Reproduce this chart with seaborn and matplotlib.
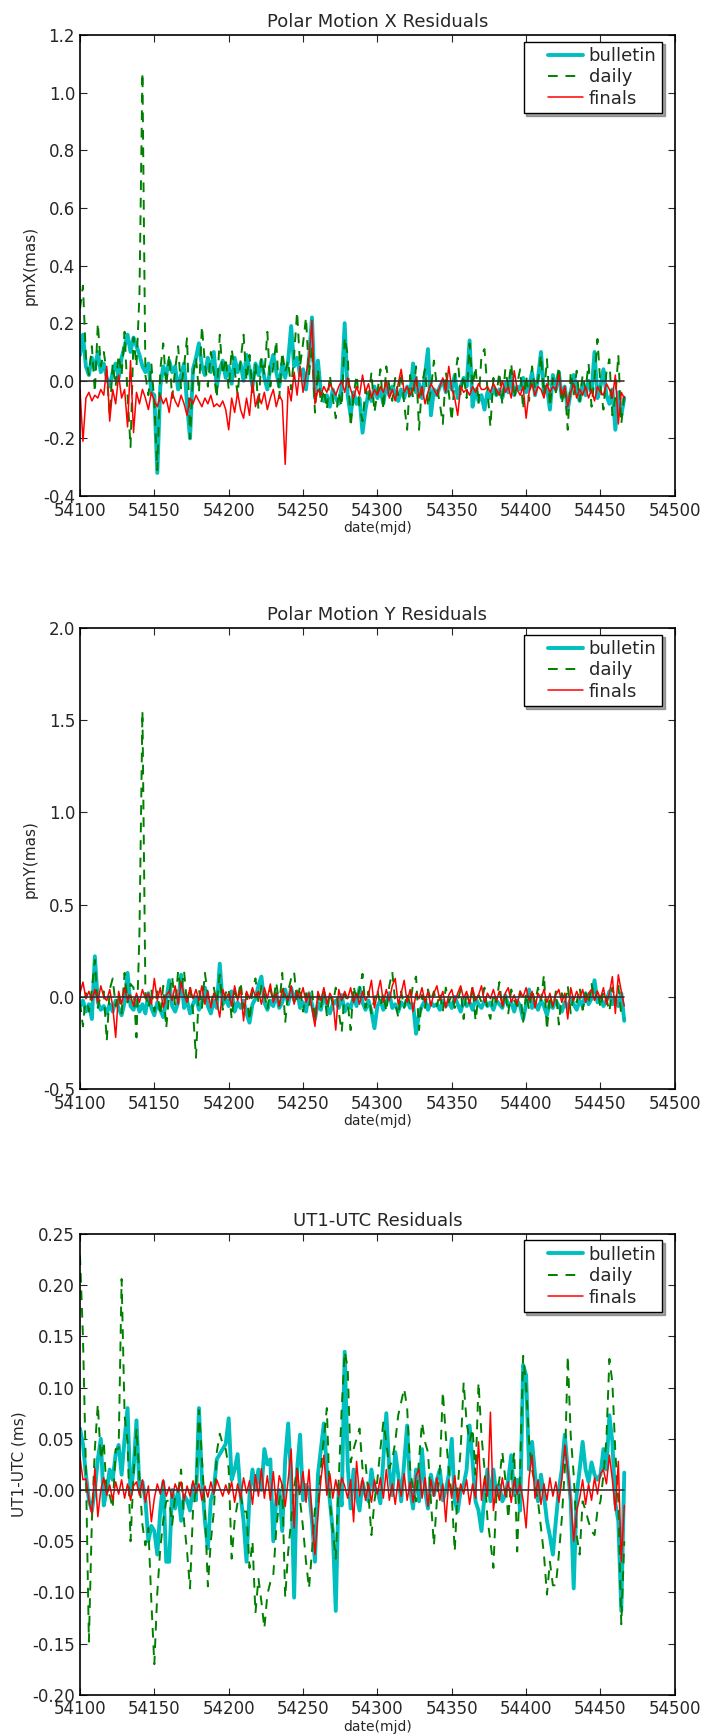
import numpy as np
import pandas as pd
import matplotlib
matplotlib.use("Agg")
import matplotlib.pyplot as plt
from matplotlib.lines import Line2D
from matplotlib.legend_handler import HandlerLine2D
import seaborn as sns

sns.set_style("ticks")
plt.rcParams["font.family"] = ["DejaVu Sans"]
plt.rcParams["axes.unicode_minus"] = False
plt.rcParams["xtick.direction"] = "in"
plt.rcParams["ytick.direction"] = "in"

# dates every 2 days, mjd 54100 .. 54466
mjd = np.arange(54100, 54467, 2)
series_names = ["bulletin", "daily", "finals"]

# ---- Polar motion X residuals (mas)
pmx_bulletin = [
    0.09, 0.16, 0.05, 0.02, 0.08, 0.04, 0.10, 0.03, 0.06, 0.01,
    -0.02, 0.03, 0.06, 0.01, 0.08, 0.12, 0.16, 0.10, 0.15, 0.12,
    0.09, 0.05, 0.03, 0.06, -0.04, -0.05, -0.32, -0.02, 0.05, 0.02,
    0.07, 0.03, 0.05, -0.03, 0.02, 0.06, -0.08, -0.20, 0.04, 0.08,
    0.13, 0.05, 0.02, 0.08, 0.03, 0.10, -0.02, 0.04, 0.07, 0.01,
    0.05, -0.01, 0.08, 0.03, 0.06, 0.00, 0.09, 0.04, -0.02, 0.06,
    0.02, 0.07, 0.01, -0.03, 0.05, 0.09, 0.03, -0.02, 0.06, 0.01,
    0.07, 0.19, 0.05, 0.08, 0.02, 0.04, -0.03, 0.08, 0.22, -0.06,
    0.07, -0.04, -0.07, -0.05, -0.09, -0.03, -0.06, -0.08, -0.02, 0.20,
    -0.05, -0.12, -0.04, -0.08, -0.06, -0.18, -0.10, -0.04, -0.07, -0.02,
    -0.06, -0.03, -0.08, -0.01, -0.05, -0.02, -0.04, -0.07, -0.03, -0.06,
    -0.02, -0.05, 0.06, -0.04, -0.01, -0.06, 0.02, 0.11, -0.12, -0.03,
    -0.05, -0.02, 0.00, -0.04, -0.01, -0.03, 0.02, -0.06, -0.02, 0.01,
    -0.02, 0.14, -0.09, -0.03, -0.07, -0.05, -0.10, -0.04, -0.06, -0.02,
    -0.05, -0.03, -0.06, -0.01, -0.04, 0.02, -0.05, -0.02, -0.03, 0.01,
    -0.04, -0.02, 0.03, -0.05, 0.01, 0.10, -0.04, -0.02, -0.10, 0.02,
    -0.03, 0.03, -0.06, -0.02, -0.10, -0.04, 0.02, -0.03, -0.07, -0.01,
    -0.05, 0.00, -0.04, 0.10, -0.06, -0.02, 0.04, -0.05, -0.08, -0.03,
    -0.17, -0.04, -0.12, -0.06,
]
pmx_daily = [
    0.25, 0.33, 0.08, 0.02, 0.12, -0.04, 0.20, 0.05, 0.10, 0.03,
    -0.12, 0.06, -0.02, 0.09, 0.02, 0.17, -0.05, -0.23, 0.15, 0.05,
    0.30, 1.07, 0.02, -0.05, 0.06, -0.08, -0.31, 0.04, 0.13, -0.02,
    0.09, -0.06, 0.04, 0.12, -0.03, 0.05, 0.15, -0.20, 0.02, 0.08,
    -0.04, 0.19, 0.06, -0.02, 0.10, 0.03, -0.06, 0.16, 0.02, 0.08,
    -0.03, 0.11, 0.04, -0.05, 0.07, 0.16, 0.00, 0.09, -0.04, 0.06,
    -0.10, 0.08, 0.02, 0.17, -0.02, 0.05, 0.14, -0.06, 0.10, 0.03,
    0.07, -0.03, 0.09, 0.24, 0.05, 0.13, 0.22, 0.02, 0.12, -0.11,
    0.04, -0.08, -0.03, -0.10, 0.02, -0.06, -0.13, -0.04, -0.09, 0.15,
    0.09, -0.16, -0.05, 0.02, -0.09, -0.14, -0.03, -0.07, 0.03, -0.11,
    -0.04, 0.04, -0.10, 0.05, -0.02, -0.07, 0.01, -0.05, 0.03, -0.08,
    -0.17, 0.02, -0.06, 0.05, -0.17, -0.01, 0.04, -0.09, -0.03, 0.07,
    -0.02, -0.08, -0.15, 0.03, -0.04, -0.14, 0.01, 0.08, -0.05, 0.02,
    -0.06, 0.13, -0.02, 0.05, -0.08, 0.09, 0.11, -0.03, -0.16, 0.01,
    -0.05, 0.03, -0.08, 0.04, -0.02, 0.06, -0.06, -0.01, 0.04, -0.10,
    0.02, -0.07, 0.05, -0.03, 0.00, 0.09, -0.05, 0.075, -0.09, 0.01,
    -0.04, 0.05, -0.08, -0.02, -0.17, 0.03, -0.05, 0.035, -0.07, 0.02,
    -0.03, 0.06, -0.09, 0.01, 0.145, -0.02, -0.10, 0.03, 0.075, -0.12,
    -0.06, 0.09, -0.15, -0.05,
]
pmx_finals = [
    -0.03, -0.21, -0.06, -0.04, -0.07, -0.05, -0.06, -0.03, -0.05, 0.05,
    -0.14, -0.03, -0.08, 0.02, -0.06, -0.03, -0.16, 0.07, -0.18, -0.04,
    -0.08, -0.03, -0.06, -0.10, -0.04, -0.07, -0.09, -0.05, -0.08, -0.06,
    -0.11, -0.04, -0.07, -0.09, -0.05, -0.08, -0.12, -0.06, -0.08, -0.05,
    -0.07, -0.09, -0.06, -0.08, -0.05, -0.09, -0.08, -0.09, -0.07, -0.10,
    -0.17, -0.06, -0.11, -0.04, -0.10, -0.13, -0.06, -0.12, 0.00, -0.09,
    -0.05, -0.08, -0.04, -0.10, -0.06, -0.03, -0.09, -0.05, -0.07, -0.29,
    -0.02, -0.07, 0.03, -0.05, 0.05, -0.04, 0.02, 0.08, 0.21, -0.08,
    -0.03, -0.05, -0.02, -0.04, -0.01, -0.03, -0.05, -0.02, 0.00, -0.04,
    0.01, -0.03, -0.06, -0.02, -0.05, 0.02, -0.04, -0.01, -0.06, -0.03,
    -0.05, -0.02, -0.04, 0.00, -0.06, -0.03, -0.07, -0.01, 0.04, -0.04,
    -0.02, -0.05, -0.03, 0.01, -0.06, -0.02, -0.08, -0.04, -0.01, -0.03,
    -0.05, -0.02, 0.01, -0.04, 0.05, -0.03, -0.06, -0.12, -0.02, -0.04,
    -0.03, -0.05, -0.02, -0.04, -0.01, -0.03, -0.03, -0.02, -0.04, -0.01,
    -0.03, -0.05, 0.00, -0.04, -0.02, -0.06, 0.035, -0.03, -0.05, -0.02,
    -0.13, -0.04, -0.01, -0.05, -0.02, -0.03, -0.06, -0.01, -0.04, -0.02,
    -0.03, 0.02, -0.05, -0.02, -0.09, -0.04, -0.01, -0.06, -0.03, -0.05,
    -0.02, -0.06, -0.03, -0.07, -0.02, -0.04, -0.05, -0.01, -0.03, -0.06,
    0.02, -0.15, -0.04, -0.06,
]

# ---- Polar motion Y residuals (mas)
pmy_bulletin = [
    -0.05, -0.02, -0.08, -0.04, -0.12, 0.22, -0.03, -0.07, -0.05, -0.09,
    -0.04, -0.08, -0.02, -0.06, -0.10, -0.03, 0.13, -0.05, -0.07, -0.02,
    -0.08, -0.04, -0.09, 0.02, -0.06, -0.10, -0.03, -0.07, -0.11, -0.02,
    0.09, -0.05, -0.08, -0.03, 0.12, -0.06, -0.02, -0.09, -0.04, 0.00,
    -0.07, -0.03, 0.05, -0.05, -0.09, -0.02, -0.06, 0.18, -0.04, -0.01,
    -0.05, 0.03, -0.08, -0.03, -0.06, -0.02, -0.09, -0.14, -0.04, -0.01,
    0.06, 0.11, -0.03, -0.07, -0.02, -0.05, 0.02, -0.06, -0.03, 0.04,
    -0.04, 0.05, -0.02, 0.03, -0.06, -0.03, -0.08, 0.02, -0.04, -0.12,
    -0.03, -0.07, 0.02, -0.05, -0.09, -0.04, -0.02, -0.06, 0.01, -0.08,
    -0.04, -0.06, 0.00, -0.05, 0.05, -0.03, -0.07, -0.02, -0.08, -0.17,
    -0.05, -0.02, -0.07, -0.03, 0.02, -0.06, -0.04, -0.08, -0.03, -0.05,
    -0.02, -0.06, -0.04, -0.20, -0.09, -0.05, -0.02, -0.07, -0.03, -0.05,
    -0.04, -0.07, -0.02, -0.05, -0.03, -0.06, 0.00, -0.04, -0.08, -0.02,
    -0.05, -0.03, -0.07, -0.01, -0.04, -0.06, -0.02, -0.05, -0.03, -0.07,
    -0.02, -0.04, -0.06, 0.01, -0.05, -0.03, -0.08, -0.02, -0.05, -0.12,
    -0.04, 0.04, -0.06, -0.03, -0.07, -0.02, -0.05, -0.10, -0.03, -0.06,
    -0.02, -0.05, -0.08, -0.03, -0.06, -0.01, -0.04, -0.07, -0.02, -0.05,
    0.02, -0.04, -0.01, 0.09, -0.03, 0.00, -0.05, -0.02, 0.03, -0.04,
    -0.01, -0.05, 0.02, -0.13,
]
pmy_daily = [
    -0.03, -0.16, 0.02, -0.08, 0.04, 0.20, -0.06, 0.01, 0.03, -0.24,
    0.04, 0.10, -0.05, 0.02, -0.09, 0.13, -0.03, 0.07, 0.05, -0.22,
    0.35, 1.55, 0.02, -0.06, 0.04, -0.08, 0.03, -0.10, 0.06, -0.17,
    0.02, 0.11, -0.05, 0.14, 0.03, 0.14, -0.04, 0.06, -0.08, -0.33,
    0.04, -0.06, 0.13, 0.01, -0.05, 0.05, -0.03, 0.12, -0.07, 0.02,
    0.05, -0.12, 0.03, -0.02, 0.08, -0.06, 0.02, -0.13, 0.04, 0.10,
    -0.03, 0.06, 0.02, -0.07, 0.04, -0.02, 0.08, -0.05, 0.13, -0.14,
    0.03, 0.10, 0.135, -0.03, 0.06, -0.08, 0.02, -0.05, 0.04, -0.13,
    0.01, -0.06, 0.04, -0.10, 0.02, -0.04, 0.05, -0.08, -0.19, 0.02,
    -0.03, -0.18, 0.06, -0.02, 0.04, 0.125, -0.06, 0.03, -0.09, -0.01,
    0.04, -0.05, 0.02, -0.08, 0.06, 0.135, -0.03, -0.11, 0.03, -0.06,
    0.02, -0.04, 0.07, 0.11, -0.18, 0.01, -0.06, 0.04, -0.02, 0.03,
    -0.05, 0.02, -0.08, 0.05, -0.03, 0.01, -0.06, -0.02, 0.04, -0.12,
    0.03, -0.04, 0.06, -0.13, 0.01, -0.03, 0.05, -0.07, -0.12, 0.02,
    -0.03, 0.08, -0.06, 0.02, -0.09, 0.04, -0.02, -0.05, 0.03, -0.135,
    0.02, -0.07, 0.04, -0.03, 0.05, -0.02, 0.12, -0.18, 0.01, -0.06,
    0.03, -0.15, 0.02, -0.04, 0.06, -0.09, 0.01, -0.03, 0.05, -0.07,
    0.02, -0.04, 0.07, -0.02, 0.04, -0.06, 0.03, -0.01, -0.08, 0.05,
    -0.03, 0.06, -0.10, -0.12,
]
pmy_finals = [
    0.02, 0.08, -0.01, 0.03, -0.02, 0.04, -0.03, 0.06, 0.00, -0.02,
    0.04, -0.05, -0.22, 0.03, -0.04, 0.05, -0.02, 0.01, -0.05, 0.02,
    -0.03, 0.04, -0.01, 0.02, -0.04, 0.10, -0.02, 0.05, -0.06, 0.01,
    0.03, -0.02, 0.06, -0.04, 0.08, 0.01, -0.03, 0.05, -0.01, 0.04,
    -0.02, 0.06, -0.04, 0.03, -0.06, 0.02, -0.03, -0.11, 0.04, -0.01,
    0.02, -0.05, 0.06, -0.02, 0.04, -0.13, 0.03, -0.01, 0.05, 0.00,
    0.03, -0.04, 0.05, -0.01, 0.07, -0.03, 0.02, -0.05, 0.04, 0.01,
    -0.02, 0.06, -0.04, 0.03, -0.01, 0.05, -0.03, 0.02, -0.06, -0.16,
    0.03, -0.02, 0.05, -0.04, 0.02, -0.01, -0.18, 0.04, -0.02, 0.03,
    -0.01, 0.05, -0.03, 0.02, -0.04, 0.03, -0.02, 0.01, 0.09, -0.06,
    0.02, 0.09, -0.03, 0.04, -0.02, 0.06, 0.10, -0.04, 0.02, 0.09,
    -0.03, 0.04, -0.08, 0.02, -0.01, 0.05, -0.03, 0.03, -0.05, 0.02,
    0.06, -0.02, 0.03, -0.06, 0.01, 0.04, -0.03, 0.02, 0.06, -0.01,
    0.03, -0.04, 0.05, -0.02, 0.01, 0.06, -0.03, 0.02, -0.01, 0.04,
    -0.02, 0.03, -0.05, 0.02, 0.05, -0.03, 0.01, -0.04, 0.03, 0.00,
    0.05, -0.02, 0.03, -0.06, 0.02, -0.01, 0.04, -0.03, 0.02, -0.05,
    0.01, 0.04, -0.03, 0.02, -0.12, 0.05, -0.02, 0.03, -0.01, 0.04,
    -0.03, 0.02, 0.04, -0.02, 0.03, -0.01, 0.05, -0.04, 0.02, 0.11,
    -0.09, 0.12, 0.03, -0.05,
]

# ---- UT1-UTC residuals (ms)
ut1_bulletin = [
    0.06, 0.045, 0.015, -0.01, -0.02, 0.00, 0.03, 0.05, -0.015, 0.00,
    0.02, 0.01, 0.035, 0.044, 0.015, 0.05, 0.08, -0.005, 0.02, 0.068,
    0.00, 0.008, -0.01, -0.05, -0.035, -0.04, -0.063, -0.02, 0.008, -0.07,
    -0.07, 0.00, -0.018, 0.00, -0.03, -0.005, -0.01, -0.02, 0.005, -0.01,
    0.08, 0.01, -0.03, -0.057, -0.01, 0.00, 0.03, 0.035, 0.04, 0.045,
    0.07, 0.01, 0.02, 0.035, -0.005, -0.03, -0.07, -0.005, 0.02, 0.00,
    0.02, 0.00, 0.04, 0.025, 0.03, -0.05, -0.01, 0.00, -0.04, 0.03,
    0.065, 0.01, -0.105, 0.02, 0.054, -0.01, 0.005, 0.00, -0.03, -0.07,
    0.015, 0.04, 0.065, 0.02, -0.01, -0.04, -0.118, 0.005, -0.015, 0.135,
    0.025, -0.018, 0.02, -0.005, -0.02, 0.008, -0.005, -0.011, 0.02, 0.00,
    0.00, -0.013, 0.03, 0.075, 0.02, -0.005, 0.037, 0.015, -0.011, 0.027,
    0.063, 0.00, -0.018, 0.02, -0.011, 0.04, 0.00, -0.018, 0.015, -0.005,
    0.01, 0.02, -0.01, 0.00, 0.015, 0.05, -0.011, -0.021, 0.00, 0.005,
    0.02, 0.063, 0.028, -0.011, -0.02, -0.04, -0.005, 0.02, -0.011, 0.02,
    -0.005, 0.005, -0.011, -0.005, 0.01, 0.034, -0.005, 0.01, -0.02, 0.122,
    0.112, 0.02, 0.047, 0.015, -0.011, 0.015, -0.005, -0.03, -0.045, -0.063,
    -0.03, 0.00, 0.02, 0.054, 0.02, -0.011, -0.096, -0.005, 0.02, 0.047,
    0.02, 0.008, 0.027, 0.015, 0.01, 0.015, 0.04, 0.02, 0.073, 0.047,
    -0.013, -0.03, -0.118, 0.017,
]
ut1_daily = [
    0.229, 0.15, 0.02, -0.148, -0.03, 0.04, 0.084, 0.03, 0.047, -0.005,
    -0.005, -0.018, 0.04, 0.04, 0.206, 0.073, 0.047, -0.05, 0.015, 0.06,
    0.01, -0.034, -0.054, -0.037, -0.109, -0.17, -0.10, -0.057, -0.03, -0.011,
    -0.01, -0.034, -0.005, -0.002, 0.02, -0.031, -0.06, -0.096, -0.02, 0.002,
    0.078, 0.03, -0.018, -0.094, -0.05, -0.021, 0.037, 0.055, 0.045, 0.04,
    0.021, -0.067, -0.03, -0.012, -0.005, -0.021, -0.021, -0.076, -0.05, -0.12,
    -0.086, -0.109, -0.135, -0.102, -0.09, -0.083, -0.038, -0.01, 0.005, -0.105,
    -0.06, -0.03, 0.002, 0.021, -0.01, -0.037, -0.07, -0.096, -0.06, -0.018,
    -0.018, 0.021, 0.05, 0.08, -0.011, -0.04, -0.067, 0.01, 0.08, 0.135,
    0.12, 0.027, 0.04, 0.05, 0.06, 0.021, 0.027, -0.005, -0.044, -0.011,
    0.01, 0.04, 0.066, 0.047, 0.021, 0.03, 0.047, 0.073, 0.086, 0.099,
    0.08, 0.021, 0.00, -0.011, 0.03, 0.066, 0.047, 0.037, -0.011, -0.054,
    -0.01, 0.021, 0.096, 0.053, 0.02, -0.005, -0.06, 0.002, 0.04, 0.105,
    0.066, 0.047, 0.06, 0.015, 0.105, 0.053, 0.021, -0.028, -0.05, -0.076,
    -0.005, 0.01, 0.037, 0.011, -0.028, 0.01, 0.037, -0.06, 0.021, 0.131,
    0.102, 0.047, 0.02, 0.005, -0.011, -0.037, -0.063, -0.102, -0.07, -0.093,
    -0.093, -0.063, -0.028, 0.02, 0.131, 0.053, 0.015, -0.044, -0.063, -0.011,
    -0.02, -0.031, -0.04, -0.044, -0.02, -0.011, 0.015, 0.05, 0.128, 0.105,
    0.037, -0.011, -0.131, -0.05,
]
ut1_finals = [
    0.032, 0.01, 0.011, -0.01, -0.023, 0.021, -0.026, 0.00, 0.012, -0.005,
    0.005, -0.01, 0.008, -0.004, 0.01, -0.008, 0.006, -0.01, 0.004, 0.008,
    -0.005, 0.01, -0.012, 0.004, -0.031, -0.008, 0.006, -0.004, 0.01, -0.006,
    0.003, -0.008, 0.006, -0.002, 0.008, -0.01, 0.004, -0.006, 0.009, -0.003,
    0.006, -0.01, 0.004, -0.007, 0.008, -0.004, 0.01, 0.002, -0.006, 0.005,
    -0.004, 0.008, -0.012, 0.006, -0.008, 0.012, -0.003, 0.009, -0.014, 0.015,
    -0.006, 0.021, -0.008, 0.014, -0.01, 0.018, -0.015, 0.014, 0.005, -0.016,
    0.01, 0.04, -0.037, 0.02, -0.003, 0.018, -0.012, 0.02, -0.025, -0.063,
    -0.025, 0.01, 0.034, -0.005, 0.016, -0.008, 0.01, -0.006, 0.012, 0.004,
    -0.008, 0.01, -0.031, 0.028, -0.006, 0.012, -0.01, 0.006, -0.012, 0.01,
    -0.004, 0.012, -0.008, 0.02, -0.01, 0.006, -0.014, 0.01, -0.006, 0.016,
    -0.01, 0.008, -0.012, 0.014, 0.02, -0.008, 0.012, -0.016, 0.01, -0.006,
    0.012, -0.01, 0.006, -0.031, 0.01, -0.008, 0.014, -0.012, 0.006, -0.004,
    0.01, -0.014, 0.006, -0.008, 0.047, -0.01, 0.012, -0.006, 0.076, -0.02,
    0.004, -0.01, 0.012, -0.006, 0.008, -0.012, 0.01, -0.004, 0.006, -0.01,
    -0.037, 0.012, 0.034, -0.008, 0.01, -0.014, 0.006, -0.01, 0.012, -0.006,
    0.008, -0.012, 0.01, 0.044, 0.02, -0.01, -0.05, -0.02, -0.008, 0.01,
    -0.014, 0.006, -0.01, 0.012, -0.004, 0.016, 0.02, 0.006, 0.034, 0.01,
    -0.02, 0.028, -0.07, -0.015,
]

panels = [
    ("Polar Motion X Residuals", "pmX(mas)", [pmx_bulletin, pmx_daily, pmx_finals],
     (-0.4, 1.2), np.arange(-0.4, 1.21, 0.2), "%.1f"),
    ("Polar Motion Y Residuals", "pmY(mas)", [pmy_bulletin, pmy_daily, pmy_finals],
     (-0.5, 2.0), np.arange(-0.5, 2.01, 0.5), "%.1f"),
    ("UT1-UTC Residuals", "UT1-UTC (ms)", [ut1_bulletin, ut1_daily, ut1_finals],
     (-0.2, 0.25), np.arange(-0.2, 0.251, 0.05), "%.2f"),
]

styles = {
    "bulletin": dict(color="#00bfbf", linewidth=2.8, linestyle="-"),
    "daily": dict(color="#008000", linewidth=1.4, linestyle=(0, (5, 4))),
    "finals": dict(color="#ff0000", linewidth=1.1, linestyle="-"),
}

fig = plt.figure(figsize=(7.09, 17.35), dpi=100)
bottoms = [0.7141, 0.3723, 0.0231]

for (title, ylabel, data, ylim, yticks, fmt), bottom in zip(panels, bottoms):
    ax = fig.add_axes([0.1128, bottom, 0.839, 0.2657])
    df = pd.DataFrame({"mjd": mjd})
    for name, values in zip(series_names, data):
        df[name] = values
    for name in series_names:
        sns.lineplot(data=df, x="mjd", y=name, ax=ax, label=name, **styles[name])
    ax.plot([mjd[0], mjd[-1]], [0, 0], color="#333333", linewidth=1.2)

    ax.set_xlim(54100, 54500)
    ax.set_ylim(*ylim)
    ax.set_xticks(np.arange(54100, 54501, 50))
    ax.set_yticks(yticks)
    ax.yaxis.set_major_formatter(matplotlib.ticker.FormatStrFormatter(fmt))
    ax.tick_params(top=True, right=True, labelsize=12, length=5, width=0.8)
    ax.tick_params(axis="x", pad=4)
    for sp in ax.spines.values():
        sp.set_linewidth(1.2)
        sp.set_color("black")
    ax.set_title(title, fontsize=13)
    ax.set_xlabel("date(mjd)", fontsize=10, labelpad=1)
    ax.set_ylabel(ylabel, fontsize=11)
    leg = ax.legend(loc="upper right", bbox_to_anchor=(0.978, 0.986), fontsize=13,
                    shadow=True, fancybox=False, framealpha=1, edgecolor="black",
                    handlelength=3.0, handletextpad=0.3, borderpad=0.3,
                    labelspacing=0.19, borderaxespad=0,
                    handler_map={Line2D: HandlerLine2D(xpad=1.05)})
    leg.get_frame().set_linewidth(1.0)

fig.savefig("out.png", dpi=100)
